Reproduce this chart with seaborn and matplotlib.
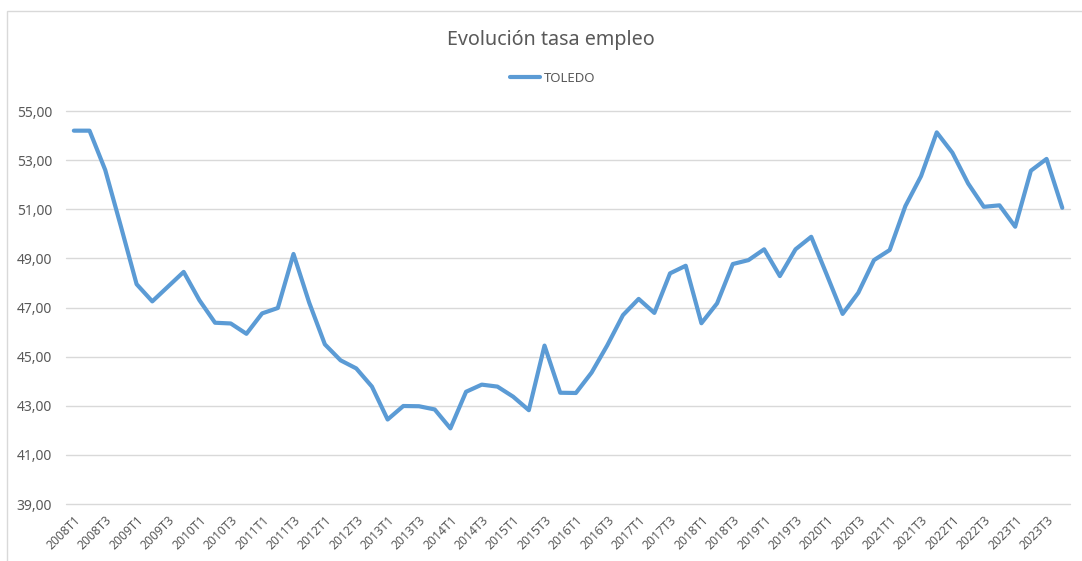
import pandas as pd
import seaborn as sns
import matplotlib.pyplot as plt
from matplotlib.patches import Rectangle

# trimestres 2008T1 .. 2023T4
periodos = ["{}T{}".format(a, t) for a in range(2008, 2024) for t in range(1, 5)]

toledo = [54.20, 54.20, 52.60, 50.30, 47.95, 47.25, 47.85, 48.45,
          47.30, 46.38, 46.35, 45.93, 46.76, 46.98, 49.18, 47.20,
          45.50, 44.85, 44.52, 43.78, 42.44, 42.99, 42.98, 42.85,
          42.08, 43.57, 43.86, 43.78, 43.37, 42.82, 45.45, 43.53,
          43.52, 44.35, 45.46, 46.69, 47.35, 46.78, 48.39, 48.70,
          46.36, 47.17, 48.77, 48.93, 49.37, 48.28, 49.37, 49.88,
          48.32, 46.74, 47.60, 48.93, 49.34, 51.13, 52.35, 54.13,
          53.30, 52.05, 51.10, 51.16, 50.29, 52.57, 53.05, 51.06]

df = pd.DataFrame({"periodo": periodos, "tasa": toledo})

sns.set_theme(style="white")
plt.rcParams['font.family'] = ['Noto Sans', 'DejaVu Sans']
gris = "#595959"

fig = plt.figure(figsize=(10.82, 5.61), dpi=100)
ax = fig.add_axes([0.061, 0.1016, 0.928, 0.7005])

# marco del grafico
fig.patches.append(Rectangle((7/1082, -0.1), 1.2, 1 - 11/561 + 0.1, transform=fig.transFigure,
                             fill=False, edgecolor="#d9d9d9", linewidth=1))

sns.lineplot(data=df, x="periodo", y="tasa", sort=False, color="#5B9BD5",
             linewidth=3, ax=ax, label="TOLEDO")

ax.set_ylim(39, 55)
ax.set_yticks(range(39, 56, 2))
ax.set_yticklabels(["{:.2f}".format(v).replace(".", ",") for v in range(39, 56, 2)],
                   fontsize=10, color=gris)
ax.set_xlim(-0.5, len(periodos) - 0.5)
ax.set_xticks(range(0, len(periodos), 2))
ax.set_xticklabels(periodos[::2], rotation=45, ha="right", rotation_mode="anchor",
                   fontsize=8.8, color=gris)
ax.tick_params(axis="both", length=0, pad=7)
ax.tick_params(axis="y", pad=10)
ax.grid(axis="y", color="#d9d9d9", linewidth=1)
for gl in ax.get_ygridlines():
    gl.set_clip_on(False)
ax.set_axisbelow(True)
for s in ax.spines.values():
    s.set_visible(False)
ax.set_xlabel("")
ax.set_ylabel("")

fig.text(0.509, 0.928, "Evolución tasa empleo", ha="center", va="center",
         fontsize=14.2, color=gris)
leg = ax.legend(loc="center", bbox_to_anchor=(0.511, 0.86), bbox_transform=fig.transFigure,
                frameon=False, fontsize=9.5, handlelength=2.3, handletextpad=0.3)
for t in leg.get_texts():
    t.set_color(gris)

fig.savefig("out.png", dpi=100)
